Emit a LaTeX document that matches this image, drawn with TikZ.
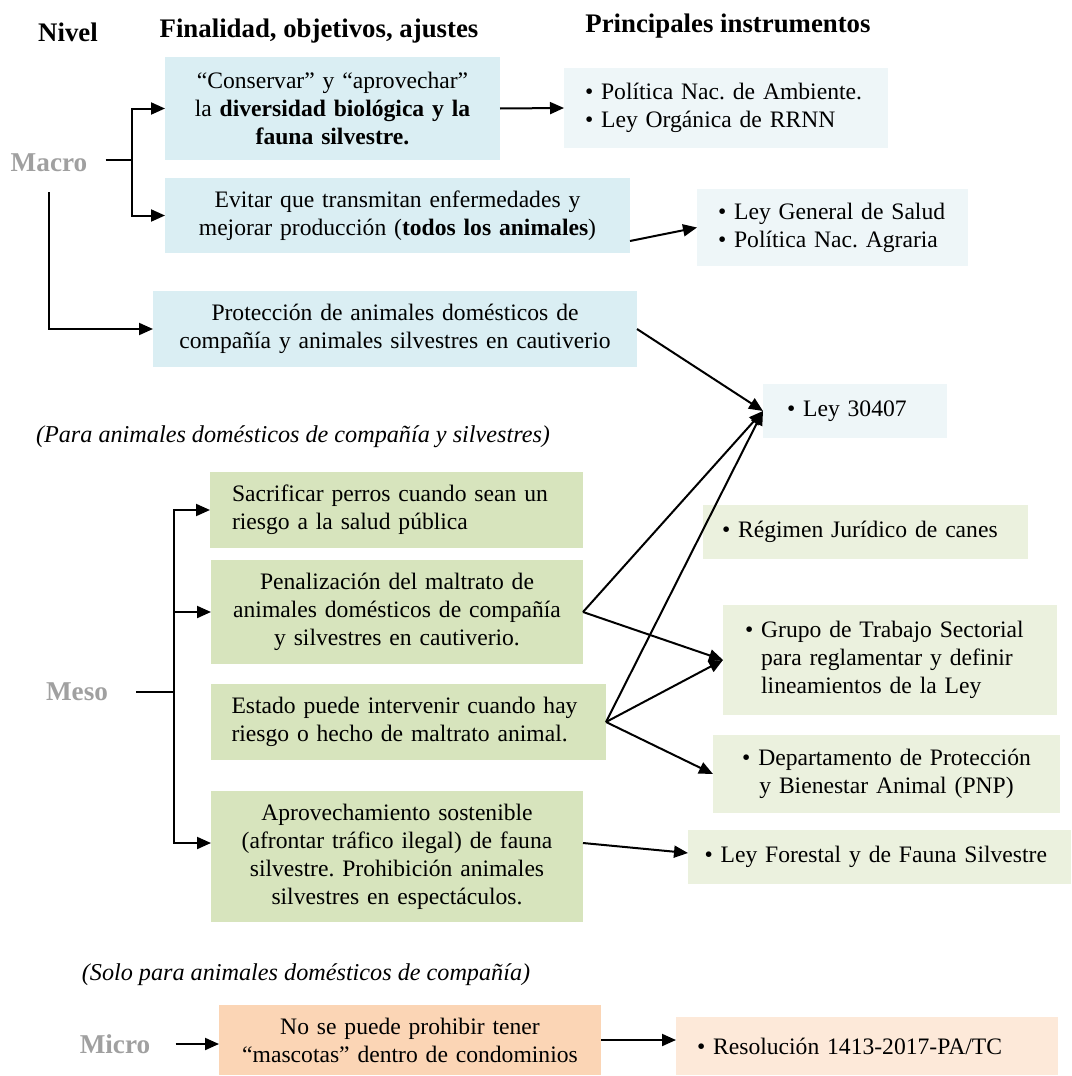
\documentclass[tikz,border=0pt]{standalone}
\usepackage{fontspec}
\setmainfont{Liberation Serif}
\usetikzlibrary{arrows.meta}
\definecolor{azul}{HTML}{DAEEF3}
\definecolor{azulc}{HTML}{EEF6F8}
\definecolor{verde}{HTML}{D7E4BD}
\definecolor{verdec}{HTML}{EBF1DE}
\definecolor{naranja}{HTML}{FBD5B5}
\definecolor{naranjac}{HTML}{FDE9D9}
\definecolor{gris}{HTML}{A0A0A0}
\frenchspacing
\begin{document}
\begin{tikzpicture}%
[x=0.5pt,y=-0.5pt,font=\fontsize{11.8}{14}\selectfont,%
caja/.style n args={4}{fill=#1, inner sep=0pt, outer sep=0pt,%
  minimum width=#2, minimum height=#3, text width=#4},%
titulo/.style={font=\fontsize{13.4}{16}\selectfont\bfseries, inner sep=0pt},%
nivel/.style={font=\fontsize{13.6}{16}\selectfont\bfseries, text=gris, inner sep=0pt},%
nota/.style={font=\fontsize{12.1}{14}\selectfont\itshape, inner sep=0pt},%
linea/.style={line width=1pt},%
flecha/.style={line width=1pt, -{Triangle[length=7pt,width=6pt]}}]
\useasboundingbox (0,0) rectangle (1071,1076);
\node[titulo] (niv) at (68,32) {Nivel};
\node[titulo] (fin) at (319,31) {Finalidad, objetivos, ajustes};
\node[titulo] (ins) at (728,26) {Principales instrumentos};
\node[nivel] (macro) at (49,163) {Macro};
\node[nivel] (meso) at (77,692) {Meso};
\node[nivel] (micro) at (115,1044) {Micro};
\node[caja={azul}{167.5pt}{51.5pt}{160pt}, align=center] (b1) at (332.5,108.5)
  {``Conservar'' y ``aprovechar''\\la \textbf{diversidad biológica y la}\\\textbf{fauna silvestre.}};
\node[caja={azul}{232.5pt}{37.5pt}{226pt}, align=center] (b2) at (397.5,215.5)
  {Evitar que transmitan enfermedades y\\mejorar producción (\textbf{todos los animales})};
\node[caja={azul}{242pt}{38pt}{237pt}, align=center] (b3) at (395,329)
  {Protección de animales domésticos de\\compañía y animales silvestres en cautiverio};
\node[caja={azulc}{162pt}{40pt}{141pt}, align=left] (r1) at (726,108)
  {\textbullet\ Política Nac. de Ambiente.\\\textbullet\ Ley Orgánica de RRNN};
\node[caja={azulc}{135.5pt}{38.5pt}{114.5pt}, align=left] (r2) at (832.5,227.5)
  {\textbullet\ Ley General de Salud\\\textbullet\ Política Nac. Agraria};
\node[caja={azulc}{92pt}{27pt}{68pt}, align=left] (r3) at (855,411)
  {\textbullet\ Ley 30407};
\node[nota] (nota1) at (293,437) {(Para animales domésticos de compañía y silvestres)};
\node[caja={verde}{186.5pt}{38pt}{164.5pt}, align=left] (g1) at (396.5,510)
  {Sacrificar perros cuando sean un\\riesgo a la salud pública};
\node[caja={verde}{186pt}{52pt}{181pt}, align=center] (g2) at (397,612)
  {Penalización del maltrato de\\animales domésticos de compañía\\y silvestres en cautiverio.};
\node[caja={verde}{197.5pt}{38pt}{177pt}, align=left] (g3) at (408.5,722)
  {Estado puede intervenir cuando hay\\riesgo o hecho de maltrato animal.};
\node[caja={verde}{186pt}{65.5pt}{181pt}, align=center] (g4) at (397,856.5)
  {Aprovechamiento sostenible\\(afrontar tráfico ilegal) de fauna\\silvestre. Prohibición animales\\silvestres en espectáculos.};
\node[caja={verdec}{162.5pt}{27pt}{143.5pt}, align=left] (rg1) at (865.5,532)
  {\textbullet\ Régimen Jurídico de canes};
\node[caja={verdec}{167pt}{55pt}{145pt}, align=left] (rg2) at (890,660)
  {\textbullet\ Grupo de Trabajo Sectorial\\\phantom{\textbullet\ }para reglamentar y definir\\\phantom{\textbullet\ }lineamientos de la Ley};
\node[caja={verdec}{173.5pt}{39pt}{168pt}, align=center] (rg3) at (886.5,774)
  {\textbullet\ Departamento de Protección\\y Bienestar Animal (PNP)};
\node[caja={verdec}{191.5pt}{27pt}{175pt}, align=left] (rg4) at (879.5,857)
  {\textbullet\ Ley Forestal y de Fauna Silvestre};
\node[nota] (nota2) at (306,975) {(Solo para animales domésticos de compañía)};
\node[caja={naranja}{191pt}{35pt}{186pt}, align=center] (o1) at (410,1040)
  {No se puede prohibir tener\\``mascotas'' dentro de condominios};
\node[caja={naranjac}{191pt}{29pt}{170pt}, align=left] (o2) at (867,1046)
  {\textbullet\ Resolución 1413-2017-PA/TC};
\draw[linea] ([xshift=9pt,yshift=1.5pt]macro.east) -- ++(13pt,0) coordinate (mc);
\draw[flecha] (mc) |- (b1.west);
\draw[flecha] (mc) |- (b2.west);
\draw[flecha] ([yshift=-10pt]macro.south) |- (b3.west);
\draw[flecha] (b1.east) -- (r1.west);
\draw[flecha] ([yshift=-12.75pt]b2.east) -- (r2.west);
\draw[flecha] (b3.east) -- (r3.west);
\draw[linea] ([xshift=14pt]meso.east) -- ++(19pt,0) coordinate (mm);
\draw[flecha] (mm) |- (g1.west);
\draw[flecha] (mm) |- (g2.west);
\draw[flecha] (mm) |- ([yshift=6.75pt]g4.west);
\draw[flecha] (g2.east) -- (r3.west);
\draw[flecha] (g2.east) -- (rg2.west);
\draw[flecha] (g3.east) -- (r3.west);
\draw[flecha] (g3.east) -- (rg2.west);
\draw[flecha] (g3.east) -- (rg3.west);
\draw[flecha] ([yshift=6.75pt]g4.east) -- ([yshift=2pt]rg4.west);
\draw[flecha] ([xshift=12.5pt]micro.east) -- (micro.east -| o1.west);
\draw[flecha] (o1.east) -- (o1.east -| o2.west);
\end{tikzpicture}
\end{document}
